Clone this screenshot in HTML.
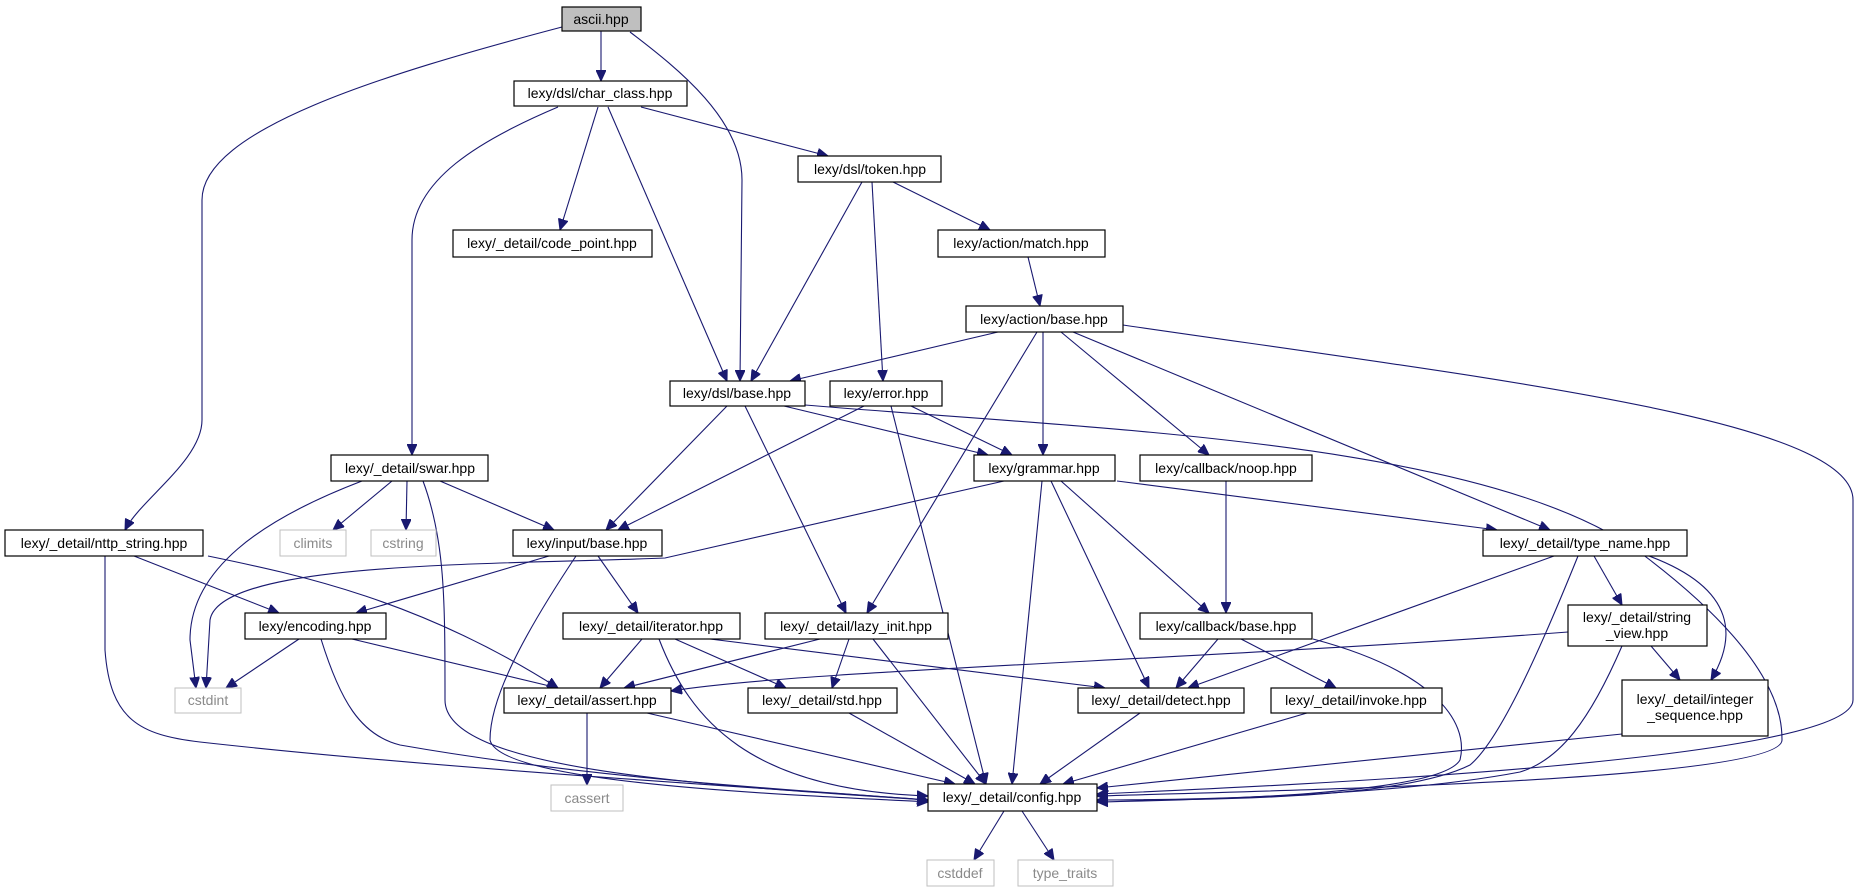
<!DOCTYPE html>
<html><head><meta charset="utf-8"><style>
html,body{margin:0;padding:0;background:#fff;width:1863px;height:888px;overflow:hidden}
svg{display:block}
text{font-family:"Liberation Sans","DejaVu Sans",sans-serif;font-size:14px;text-anchor:middle;fill:#000}
.n rect{fill:#fff;stroke:#000;stroke-width:1.2}
.g rect{fill:#fff;stroke:#bfbfbf;stroke-width:1}
.g text{fill:#8a8a8a}
.e path{fill:none;stroke:#191970;stroke-width:1.1}
</style></head><body>
<svg width="1863" height="888" viewBox="0 0 1863 888" xmlns="http://www.w3.org/2000/svg">
<defs><marker id="a" markerUnits="userSpaceOnUse" markerWidth="12" markerHeight="10" refX="11" refY="5" orient="auto"><path d="M0,0 L11,5 L0,10 z" fill="#191970" stroke="#191970"/></marker></defs>
<g class="e" marker-end="url(#a)">
<path d="M601 31 L601 81"/>
<path d="M562 27 C380 75 202 130 202 200 L202 420 C202 460 140 500 125 530"/>
<path d="M630 32 C680 70 742 120 742 180 L740 381"/>
<path d="M558 107 C480 140 412 180 412 240 L412 455"/>
<path d="M598 107 L560 230"/>
<path d="M608 107 L727 381"/>
<path d="M641 107 L828 156"/>
<path d="M862 182 L751 381"/>
<path d="M872 182 L883 381"/>
<path d="M893 182 L990 230"/>
<path d="M1028 257 L1040 306"/>
<path d="M998 332 L790 381"/>
<path d="M1037 332 L867 613"/>
<path d="M1043 332 L1043 455"/>
<path d="M1061 332 L1209 455"/>
<path d="M1073 332 L1550 530"/>
<path d="M1123 325 C1500 380 1853 420 1853 500 L1853 700 C1853 760 1300 785 1097 794"/>
<path d="M727 406 L606 530"/>
<path d="M745 406 L846 613"/>
<path d="M784 406 L988 455"/>
<path d="M805 405 C1100 430 1500 440 1650 560 C1780 660 1782 720 1782 740 C1782 780 1300 790 1097 796"/>
<path d="M864 406 L618 530"/>
<path d="M911 406 L1012 455"/>
<path d="M891 406 L986 784"/>
<path d="M362 481 C260 520 190 570 190 640 L196 688"/>
<path d="M392 481 L333 530"/>
<path d="M407 481 L406 530"/>
<path d="M440 481 L554 530"/>
<path d="M423 481 C445 540 445 600 445 700 C445 770 700 785 928 800"/>
<path d="M1004 481 L665 558 C500 565 220 560 210 620 L206 688"/>
<path d="M1117 481 L1497 530"/>
<path d="M1061 481 L1209 613"/>
<path d="M1051 481 L1149 688"/>
<path d="M1042 481 L1012 784"/>
<path d="M1226 481 L1226 613"/>
<path d="M134 556 L279 613"/>
<path d="M208 556 C300 575 420 600 558 688"/>
<path d="M105 556 L105 650 C110 720 140 735 200 742 C450 770 800 790 928 800"/>
<path d="M549 556 L356 613"/>
<path d="M598 556 L638 613"/>
<path d="M576 556 C520 640 490 700 490 740 C500 785 800 795 928 802"/>
<path d="M1554 556 L1188 688"/>
<path d="M1594 556 L1622 605"/>
<path d="M1649 556 C1740 590 1735 640 1711 680"/>
<path d="M1578 556 C1540 650 1500 740 1470 765 C1400 800 1200 800 1097 800"/>
<path d="M299 639 L226 688"/>
<path d="M352 639 L558 688"/>
<path d="M321 639 C340 700 360 735 400 745 C600 780 800 790 928 800"/>
<path d="M642 639 L600 688"/>
<path d="M675 639 L786 688"/>
<path d="M710 639 L1105 688"/>
<path d="M659 639 C690 720 750 790 928 796"/>
<path d="M820 639 L624 688"/>
<path d="M849 639 L832 688"/>
<path d="M873 639 L986 784"/>
<path d="M1218 639 L1176 688"/>
<path d="M1241 639 L1336 688"/>
<path d="M1313 639 C1430 670 1470 720 1460 760 C1440 795 1200 800 1097 802"/>
<path d="M1568 632 C1200 660 800 670 671 691"/>
<path d="M1651 646 L1680 680"/>
<path d="M1622 646 C1590 720 1560 760 1520 772 C1400 795 1200 800 1097 800"/>
<path d="M587 713 L587 785"/>
<path d="M647 713 L955 784"/>
<path d="M849 713 L975 784"/>
<path d="M1140 713 L1040 784"/>
<path d="M1307 713 L1063 784"/>
<path d="M1622 734 L1097 788"/>
<path d="M1004 811 L974 860"/>
<path d="M1022 811 L1054 860"/>
</g>
<g class="n"><rect x="562" y="7" width="79" height="24" style="fill:#bfbfbf"/><text x="601" y="24">ascii.hpp</text></g>
<g class="n"><rect x="514" y="81" width="173" height="25"/><text x="600" y="98">lexy/dsl/char_class.hpp</text></g>
<g class="n"><rect x="798" y="156" width="143" height="26"/><text x="870" y="174">lexy/dsl/token.hpp</text></g>
<g class="n"><rect x="453" y="230" width="199" height="27"/><text x="552" y="248">lexy/_detail/code_point.hpp</text></g>
<g class="n"><rect x="938" y="230" width="167" height="27"/><text x="1021" y="248">lexy/action/match.hpp</text></g>
<g class="n"><rect x="966" y="306" width="157" height="26"/><text x="1044" y="324">lexy/action/base.hpp</text></g>
<g class="n"><rect x="670" y="381" width="135" height="25"/><text x="737" y="398">lexy/dsl/base.hpp</text></g>
<g class="n"><rect x="830" y="381" width="112" height="25"/><text x="886" y="398">lexy/error.hpp</text></g>
<g class="n"><rect x="331" y="455" width="157" height="26"/><text x="410" y="473">lexy/_detail/swar.hpp</text></g>
<g class="n"><rect x="974" y="455" width="141" height="26"/><text x="1044" y="473">lexy/grammar.hpp</text></g>
<g class="n"><rect x="1140" y="455" width="172" height="26"/><text x="1226" y="473">lexy/callback/noop.hpp</text></g>
<g class="n"><rect x="5" y="530" width="198" height="26"/><text x="104" y="548">lexy/_detail/nttp_string.hpp</text></g>
<g class="g"><rect x="280" y="530" width="66" height="26"/><text x="313" y="548">climits</text></g>
<g class="g"><rect x="371" y="530" width="65" height="26"/><text x="403" y="548">cstring</text></g>
<g class="n"><rect x="513" y="530" width="149" height="26"/><text x="587" y="548">lexy/input/base.hpp</text></g>
<g class="n"><rect x="1483" y="530" width="204" height="26"/><text x="1585" y="548">lexy/_detail/type_name.hpp</text></g>
<g class="n"><rect x="245" y="613" width="141" height="26"/><text x="315" y="631">lexy/encoding.hpp</text></g>
<g class="n"><rect x="563" y="613" width="177" height="26"/><text x="651" y="631">lexy/_detail/iterator.hpp</text></g>
<g class="n"><rect x="765" y="613" width="183" height="26"/><text x="856" y="631">lexy/_detail/lazy_init.hpp</text></g>
<g class="n"><rect x="1140" y="613" width="172" height="26"/><text x="1226" y="631">lexy/callback/base.hpp</text></g>
<g class="n"><rect x="1568" y="605" width="139" height="41"/><text x="1637" y="622">lexy/_detail/string</text><text x="1637" y="638">_view.hpp</text></g>
<g class="g"><rect x="175" y="688" width="66" height="25"/><text x="208" y="705">cstdint</text></g>
<g class="n"><rect x="504" y="688" width="167" height="25"/><text x="587" y="705">lexy/_detail/assert.hpp</text></g>
<g class="n"><rect x="748" y="688" width="149" height="25"/><text x="822" y="705">lexy/_detail/std.hpp</text></g>
<g class="n"><rect x="1078" y="688" width="166" height="25"/><text x="1161" y="705">lexy/_detail/detect.hpp</text></g>
<g class="n"><rect x="1271" y="688" width="171" height="25"/><text x="1356" y="705">lexy/_detail/invoke.hpp</text></g>
<g class="n"><rect x="1622" y="680" width="146" height="56"/><text x="1695" y="704">lexy/_detail/integer</text><text x="1695" y="720">_sequence.hpp</text></g>
<g class="g"><rect x="551" y="785" width="72" height="26"/><text x="587" y="803">cassert</text></g>
<g class="n"><rect x="928" y="784" width="169" height="27"/><text x="1012" y="802">lexy/_detail/config.hpp</text></g>
<g class="g"><rect x="927" y="860" width="67" height="26"/><text x="960" y="878">cstddef</text></g>
<g class="g"><rect x="1018" y="860" width="95" height="26"/><text x="1065" y="878">type_traits</text></g>
</svg>
</body></html>
